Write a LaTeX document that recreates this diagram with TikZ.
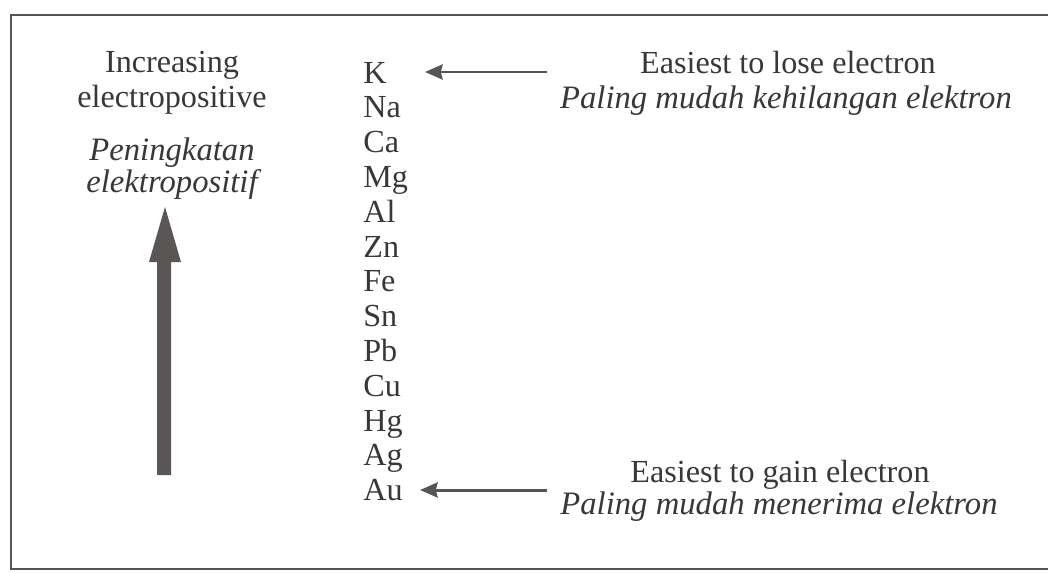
\documentclass[tikz,border=0pt]{standalone}
\usepackage{fontspec}
\setmainfont{Liberation Serif}
\usetikzlibrary{arrows.meta}
\definecolor{ink}{HTML}{383838}
\definecolor{linec}{HTML}{555555}
\definecolor{bigc}{HTML}{5A5656}
\begin{document}
\begin{tikzpicture}[x=0.02cm,y=-0.02cm,
  txt/.style={text=ink,font=\fontsize{18.3}{20}\selectfont,inner sep=0pt,anchor=base},
  itx/.style={txt,font=\fontsize{18.6}{20}\selectfont\itshape},
  ptr/.style={draw=linec,line width=1.7pt,-{Stealth[length=10pt,width=8.5pt,inset=1pt]}}]
\useasboundingbox (0,0) rectangle (1048,572);
\fill[white] (0,0) rectangle (1048,572);
\draw[linec,line width=1.2pt] (1048,15) -- (11,15) -- (11,569) -- (1048,569);
% left labels
\node[txt] (inc) at (172,72) {Increasing};
\node[txt] (elp) at (172,107) {electropositive};
\node[itx] (pen) at (172,160) {Peningkatan};
\node[itx] (elk) at (172,192) {elektropositif};
% big arrow
\fill[bigc] (157,475) -- (171,475) -- (171,262) -- (181,262) -- (165,207) -- (149,262) -- (157,262) -- cycle;
% elements
\foreach \el [count=\i from 0] in {K,Na,Ca,Mg,Al,Zn,Fe,Sn,Pb,Cu,Hg,Ag,Au}
  \node[txt,anchor=base west] (e\el) at (363,{83+34.8*\i}) {\el};
% right labels
\node[txt] (lose) at (788,73) {Easiest to lose electron};
\node[itx] (losem) at (786,108) {Paling mudah kehilangan elektron};
\node[txt] (gain) at (780,482) {Easiest to gain electron};
\node[itx] (gainm) at (779,514) {Paling mudah menerima elektron};
% pointers
\coordinate (a1) at (547,72);
\coordinate (b1) at (425,72);
\coordinate (a2) at (547,490);
\coordinate (b2) at (420,490);
\draw[ptr] (a1) -- (b1);
\draw[ptr] (a2) -- (b2);
\end{tikzpicture}
\end{document}
